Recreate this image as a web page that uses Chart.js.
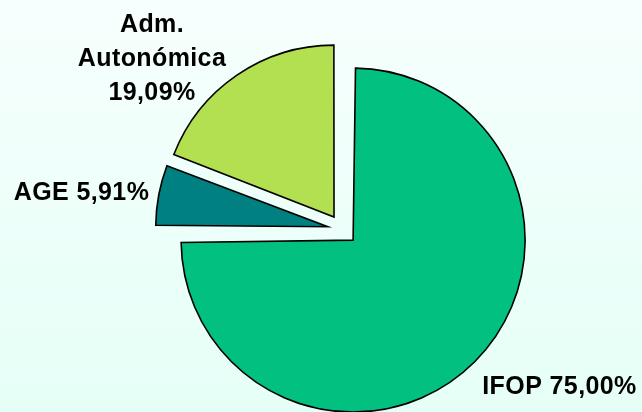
<!DOCTYPE html>
<html>
<head>
<meta charset="utf-8">
<script src="https://cdn.jsdelivr.net/npm/chart.js@4/dist/chart.umd.min.js"></script>
<style>
  html, body { margin: 0; padding: 0; }
  body { width: 642px; height: 412px; overflow: hidden;
         background: linear-gradient(to bottom, #F6FFFD 0%, #EEFFFA 50%, #E5FFF7 100%); }
  #wrap { position: relative; width: 642px; height: 412px; }
</style>
</head>
<body>
<div id="wrap"><canvas id="c" width="642" height="412"></canvas></div>
<script>
// ---- data ----
const categories = ["IFOP", "AGE", "Adm. Autonómica"];
const values = [75.00, 5.91, 19.09];
const labelLines = [["IFOP 75,00%"], ["AGE 5,91%"], ["Adm.", "Autonómica", "19,09%"]];
const colors = ["#02C080", "#008080", "#B3E050"];

// ---- layout ----
const RADIUS = 172;      // pie radius in px
const SHIFT = 15;        // explode distance in px (all slices)
const FONT = 'bold 25px "Liberation Sans", Arial, sans-serif';
const LINE_H = 34;
// label anchors relative to pie centre: [dx (text centre), dy (first baseline)]
const labelAnchors = [[217, 164.5], [-261, -29.5], [-190.5, -197.5]];

// Chart.js translates an arc by offset/4 and enlarges its radius by offset/4*fix;
// compensate so every slice keeps the same radius and is shifted by SHIFT px.
const explodePlugin = {
  id: 'explodeFix',
  beforeDatasetsDraw(chart) {
    const meta = chart.getDatasetMeta(0);
    meta.data.forEach(el => {
      const circ = el.circumference;
      const fix = 1 - Math.sin(Math.min(Math.PI, circ || 0));
      const off = (el.options.offset || 0) / 4;
      el.outerRadius = RADIUS - off * fix;
    });
  }
};

const labelPlugin = {
  id: 'sliceLabels',
  afterDatasetsDraw(chart) {
    const meta = chart.getDatasetMeta(0);
    const ctx = chart.ctx;
    const cx = meta.data[0].x, cy = meta.data[0].y;
    ctx.save();
    ctx.font = FONT;
    if ('letterSpacing' in ctx) ctx.letterSpacing = '0.4px';
    ctx.fillStyle = '#000';
    ctx.textAlign = 'center';
    ctx.textBaseline = 'alphabetic';
    labelLines.forEach((lines, i) => {
      const [dx, dy] = labelAnchors[i];
      lines.forEach((t, k) => ctx.fillText(t, cx + dx, cy + dy + k * LINE_H));
    });
    ctx.restore();
  }
};

// offsets so that translation (offset/4) equals SHIFT
const offsets = values.map(() => SHIFT * 4);

new Chart(document.getElementById('c'), {
  type: 'pie',
  data: {
    labels: categories,
    datasets: [{
      data: values,
      backgroundColor: colors,
      borderColor: '#000',
      borderWidth: 1.6,
      borderJoinStyle: 'miter',
      offset: offsets
    }]
  },
  options: {
    responsive: false,
    animation: false,
    radius: RADIUS,
    layout: { padding: { left: 43, top: 47, right: 0, bottom: 0 } },
    plugins: { legend: { display: false }, tooltip: { enabled: false } }
  },
  plugins: [explodePlugin, labelPlugin]
});
</script>
</body>
</html>
